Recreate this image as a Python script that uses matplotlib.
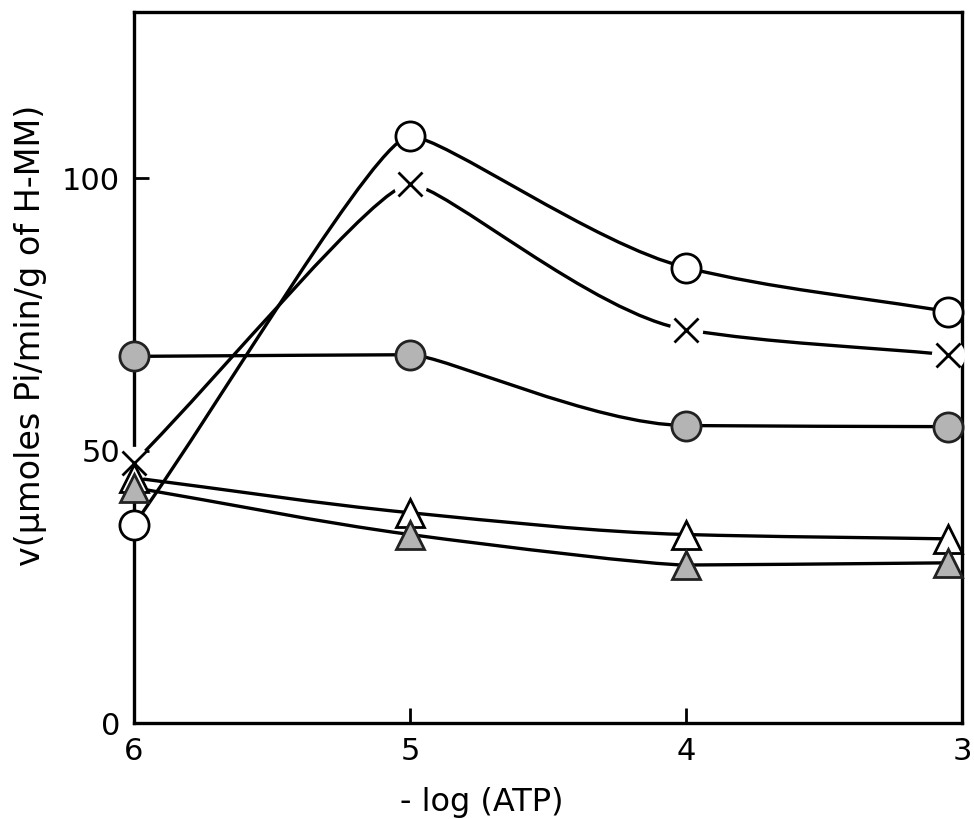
import numpy as np
import matplotlib
matplotlib.use("Agg")
import matplotlib.pyplot as plt
from matplotlib.path import Path
from matplotlib.patches import PathPatch

# -log[ATP] positions (last column drawn just inside the right frame)
x_vals = [6, 5, 4, 3.05]

open_circle = [36.4, 107.7, 83.6, 75.5]
cross = [47.8, 98.9, 72.2, 67.6]
filled_circle = [67.3, 67.6, 54.6, 54.4]
open_triangle = [45.0, 38.6, 34.6, 33.8]
filled_triangle = [43.2, 34.6, 29.0, 29.4]

x_ticks = [6, 5, 4, 3]
y_ticks = [0, 50, 100]

plt.rcParams['font.family'] = ['DejaVu Sans']


def smooth_path(xs, ys, peak_handle=0.12):
    # monotone cubic tangents, drawn as bezier segments;
    # short handles at turning points so peaks stay tight like the hand-drawn curves
    xs = np.asarray(xs, float)
    ys = np.asarray(ys, float)
    h = np.diff(xs)
    d = np.diff(ys) / h
    n = len(xs)
    m = np.zeros(n)
    frac = np.full(n, 1 / 3)
    m[0] = d[0]
    m[-1] = d[-1]
    for k in range(1, n - 1):
        if d[k - 1] * d[k] <= 0:
            m[k] = 0.0
            frac[k] = peak_handle
        else:
            w1 = 2 * abs(h[k]) + abs(h[k - 1])
            w2 = abs(h[k]) + 2 * abs(h[k - 1])
            m[k] = (w1 + w2) / (w1 / d[k - 1] + w2 / d[k])
    verts = [(xs[0], ys[0])]
    codes = [Path.MOVETO]
    for k in range(n - 1):
        a = h[k] * frac[k]
        b = h[k] * frac[k + 1]
        verts += [(xs[k] + a, ys[k] + m[k] * a),
                  (xs[k + 1] - b, ys[k + 1] - m[k + 1] * b),
                  (xs[k + 1], ys[k + 1])]
        codes += [Path.CURVE4] * 3
    return Path(verts, codes)


fig = plt.figure(figsize=(9.74, 8.19), dpi=100)
ax = fig.add_axes([0.1376, 0.1172, 0.8501, 0.8681])

series = [
    (open_circle, dict(marker='o', ms=21, mfc='white', mec='black', mew=2.0)),
    (cross, dict(marker='x', ms=17, mfc='none', mec='black', mew=2.0)),
    (filled_circle, dict(marker='o', ms=21, mfc='#b4b4b4', mec='#222222', mew=2.0)),
    (open_triangle, dict(marker='^', ms=20, mfc='white', mec='black', mew=2.0)),
    (filled_triangle, dict(marker='^', ms=20, mfc='#b4b4b4', mec='#222222', mew=2.0)),
]

for ys, style in series:
    ax.add_patch(PathPatch(smooth_path(x_vals, ys), fill=False, lw=2.4,
                           edgecolor='black', zorder=2, clip_on=False))

# white halo behind the crosses so the line stops short of them
ax.plot(x_vals, cross, linestyle='none', marker='o', ms=24, mfc='white',
        mec='none', zorder=3, clip_on=False)

for ys, style in series:
    ax.plot(x_vals, ys, linestyle='none', zorder=4, clip_on=False, **style)

ax.set_xlim(6, 3)
ax.set_ylim(0, 130.5)
ax.set_xticks(x_ticks)
ax.set_yticks(y_ticks)
ax.tick_params(direction='in', length=11, width=2, labelsize=22, pad=10)
for s in ax.spines.values():
    s.set_linewidth(2.4)

ax.set_xlabel('- log (ATP)', fontsize=23)
ax.xaxis.set_label_coords(0.42, -0.09)
ax.set_ylabel('v(\u03bcmoles Pi/min/g of H-MM)', fontsize=24)
ax.yaxis.set_label_coords(-0.105, 0.545)

fig.savefig('out.png', dpi=100)
